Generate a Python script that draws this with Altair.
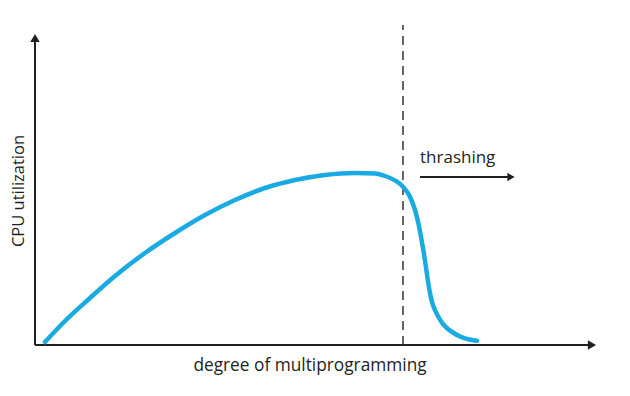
import altair as alt
import pandas as pd

# curve: degree of multiprogramming vs CPU utilization (pixel-like units)
degree = [10, 30, 55, 80, 110, 140, 170, 200, 230, 260, 290, 320, 340, 350,
          362, 368, 375, 380, 383.3, 386, 388.3, 390.5, 392.5, 395, 397, 400,
          404, 408, 413, 418, 424, 430, 436, 442]
util = [3, 24, 47, 69, 92, 112, 130, 145, 157, 165, 170, 172, 171.5, 169,
        163.3, 158.3, 148.3, 135, 122, 108.3, 95, 81, 67, 52, 43, 35,
        27, 21, 16, 12.5, 9, 6.7, 5.2, 4.3]

x_title = "degree of multiprogramming"
y_title = "CPU utilization"
note = "thrashing"
thrash_at = 368

XMAX, YMAX = 565, 325
W, H = XMAX, YMAX

curve_df = pd.DataFrame({"degree": degree, "util": util})

xs = alt.Scale(domain=[0, XMAX], nice=False, zero=False)
ys = alt.Scale(domain=[0, YMAX], nice=False, zero=False)


def X(f):
    return alt.X(f, type="quantitative", scale=xs, axis=None)


def Y(f):
    return alt.Y(f, type="quantitative", scale=ys, axis=None)


AX = "#231f20"

curve = alt.Chart(curve_df).mark_line(
    color="#1aaae2", strokeWidth=4.5, interpolate="monotone", strokeCap="round"
).encode(x=X("degree"), y=Y("util"))

hrules = pd.DataFrame({"x": [0, 385], "x2": [556, 474], "y": [0, 168]})
h = alt.Chart(hrules).mark_rule(color=AX, strokeWidth=2).encode(
    x=X("x"), x2="x2", y=Y("y"))

vrules = pd.DataFrame({"x": [0], "y": [0], "y2": [305]})
v = alt.Chart(vrules).mark_rule(color=AX, strokeWidth=2).encode(
    x=X("x"), y=Y("y"), y2="y2")

dashdf = pd.DataFrame({"x": [thrash_at], "y": [0], "y2": [320]})
dash = alt.Chart(dashdf).mark_rule(color="#333333", strokeWidth=1.5, strokeDash=[9, 6]).encode(
    x=X("x"), y=Y("y"), y2="y2")

rheads = pd.DataFrame({"x": [557, 476], "y": [0, 168], "s": [90, 70]})
rh = alt.Chart(rheads).mark_point(shape="triangle-right", filled=True, color=AX, opacity=1).encode(
    x=X("x"), y=Y("y"), size=alt.Size("s:Q", scale=None, legend=None))

uheads = pd.DataFrame({"x": [0], "y": [307]})
uh = alt.Chart(uheads).mark_point(shape="triangle-up", filled=True, color=AX, size=90, opacity=1).encode(
    x=X("x"), y=Y("y"))

notedf = pd.DataFrame({"x": [385], "y": [182], "t": [note]})
txt_note = alt.Chart(notedf).mark_text(align="left", baseline="alphabetic", font="Open Sans",
                                       fontSize=17, color=AX).encode(
    x=X("x"), y=Y("y"), text="t:N")

xtdf = pd.DataFrame({"x": [275], "y": [-21], "t": [x_title]})
txt_x = alt.Chart(xtdf).mark_text(align="center", baseline="middle", font="Open Sans",
                                  fontSize=17.3, color=AX).encode(
    x=X("x"), y=Y("y"), text="t:N")

ytdf = pd.DataFrame({"x": [-16], "y": [154], "t": [y_title]})
txt_y = alt.Chart(ytdf).mark_text(align="center", baseline="middle", font="Open Sans",
                                  fontSize=16.5, color=AX, angle=270).encode(
    x=X("x"), y=Y("y"), text="t:N")

chart = alt.layer(h, v, rh, uh, dash, curve, txt_note, txt_x, txt_y).properties(
    width=W, height=H,
    background="white",
    autosize=alt.AutoSizeParams(type="none"),
    padding={"left": 27, "top": 12, "right": 22, "bottom": 43},
).configure_view(stroke=None)

chart.save("out.html", embed_options={"renderer": "svg", "actions": False})
